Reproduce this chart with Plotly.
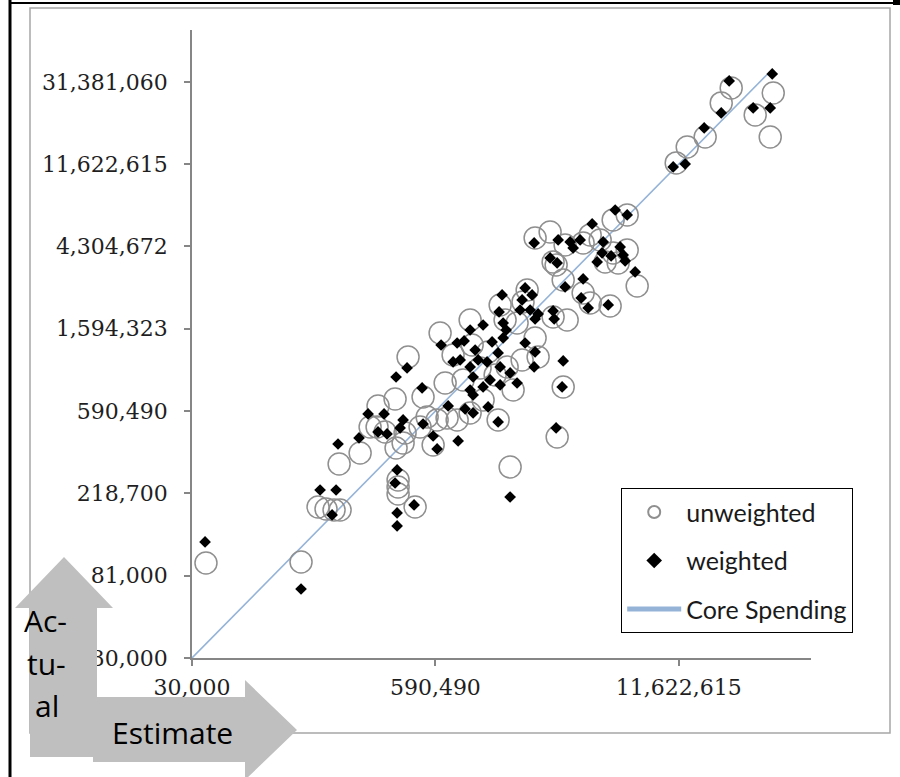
import math
import plotly.graph_objects as go

# ---- data: estimated vs actual spending, in $ thousands ----
unweighted_est_k = [
    35.6, 114.0, 140.4, 154.8, 170.8, 183.9, 181.7, 235.0, 292.6, 360.5,
    289.2, 319.1, 364.9, 374.0, 374.0, 374.0, 460.7, 407.4, 397.7, 507.8,
    489.5, 574.5, 603.1, 681.4, 770.8, 422.6, 625.6, 903.6, 733.5, 665.4,
    829.5, 1386.2, 1605.6, 2002.1, 2077.1, 1707.8, 1421.3, 1529.5, 1272.9, 1059.2,
    903.6, 2823.4, 1304.6, 2495.4, 2964.1, 1816.4, 1474.5, 2622.5, 2002.1, 2406.0,
    2589.3, 2823.4, 3604.6, 3929.5, 5016.7, 6984.6, 5205.3, 6181.5, 4440.7, 5205.3,
    6181.5, 4721.8, 5535.0, 3929.5, 3604.6, 2890.5, 2495.4, 11262.8, 12888.2, 16056.6,
    19546.0, 22083.0, 29631.0, 35611.2, 36942.7, 265.5, 926.1, 1126.2, 1020.8, 1226.9,
    1726.6, 533.7,
]
unweighted_act_k = [
    94.4, 95.5, 185.7, 181.1, 179.0, 179.0, 311.8, 356.2, 628.1, 683.4,
    487.6, 458.9, 378.4, 257.2, 236.4, 217.2, 185.7, 453.5, 401.8, 700.0,
    487.6, 392.3, 530.5, 543.4, 530.5, 1134.2, 1515.6, 1773.3, 1162.9, 828.8,
    859.9, 1773.3, 1709.6, 1426.9, 1134.2, 1094.5, 1005.9, 761.6, 530.5, 675.4,
    577.3, 790.1, 2124.9, 1837.9, 1773.3, 2546.1, 300.9, 432.0, 4768.8, 5128.6,
    3443.7, 2873.7, 2456.7, 2176.3, 2100.0, 2673.2, 5929.3, 6299.5, 4657.2, 3981.2,
    4125.4, 3572.2, 3529.2, 4947.8, 4493.2, 4383.5, 3572.2, 11797.0, 14307.4, 16136.8,
    24339.2, 29166.9, 21052.0, 16136.8, 27451.8, 487.6, 1311.1, 1205.2, 994.0, 913.4,
    2204.8, 549.9,
]

weighted_est_k = [
    35.2, 114.0, 143.9, 175.1, 166.7, 179.3, 231.9, 259.0, 315.0, 292.6,
    326.7, 369.6, 360.5, 369.6, 369.6, 454.9, 397.7, 383.4, 501.9, 507.8,
    574.5, 603.1, 364.9, 417.5, 633.2, 690.3, 780.1, 903.6, 1059.2, 770.8,
    839.4, 960.9, 1182.4, 1272.9, 997.0, 799.6, 733.5, 903.6, 1112.0, 1304.6,
    937.4, 1153.7, 1304.6, 1059.2, 903.6, 937.4, 1474.5, 1605.6, 849.6, 937.4,
    1126.2, 1272.9, 1336.4, 1771.6, 1929.6, 1707.8, 1665.7, 1884.5, 2077.1, 2002.1,
    2495.4, 2528.5, 2890.5, 1288.1, 1353.7, 1404.4, 1353.7, 1771.6, 2002.1, 1978.4,
    2823.4, 2786.9, 2589.3, 1474.5, 3604.6, 3519.0, 3833.5, 4899.6, 1978.4, 2654.5,
    3074.8, 3474.5, 3189.3, 2406.0, 2622.5, 4024.9, 4606.9, 4546.6, 4279.7, 5077.8,
    5670.1, 5881.9, 6029.6, 6813.0, 5336.5, 6181.5, 10856.4, 12574.5, 15865.1, 19546.0,
    21543.9, 28906.9, 35611.2, 36499.3,
]
weighted_act_k = [
    121.7, 69.0, 227.8, 227.8, 168.6, 396.9, 426.9, 570.5, 570.5, 458.9,
    448.2, 290.1, 247.9, 172.7, 147.6, 190.2, 530.5, 481.8, 780.9, 505.3,
    437.1, 374.0, 891.1, 994.0, 1311.1, 628.1, 411.9, 1571.2, 1668.9, 1343.1,
    1376.4, 1234.2, 1360.4, 1190.8, 1094.5, 1094.5, 1068.5, 1005.9, 1068.5, 1005.9,
    891.1, 859.9, 809.3, 790.1, 761.6, 717.5, 935.5, 828.8, 606.1, 577.3,
    620.5, 518.1, 2398.8, 2609.6, 2398.8, 2257.2, 2000.2, 2000.2, 1907.1, 1794.9,
    1976.5, 1794.9, 2641.1, 1952.7, 1709.6, 1571.2, 1426.9, 1343.1, 1205.2, 1005.9,
    1081.4, 790.1, 481.8, 209.4, 2908.0, 2312.4, 2050.0, 2124.9, 4493.2, 4657.2,
    4546.6, 4657.2, 4229.6, 3746.7, 3529.2, 5647.3, 4546.6, 3981.2, 3572.2, 3841.2,
    4279.6, 3886.5, 3615.4, 3164.6, 6685.2, 6299.5, 11240.0, 11645.8, 17997.6, 21565.8,
    31729.4, 22911.8, 22911.8, 34522.2,
]

# core spending reference (actual = estimate)
core_k = [30.0, 34300.0]

tick_vals = [30000, 81000, 218700, 590490, 1594323, 4304672, 11622615, 31381060]
y_tick_text = ["30,000", "81,000", "218,700", "590,490", "1,594,323",
               "4,304,672", "11,622,615", "31,381,060"]
x_tick_vals = [30000, 590490, 11622615]
x_tick_text = ["30,000", "590,490", "11,622,615"]


def dollars(vals_k):
    return [v * 1000 for v in vals_k]


# ---- page geometry (pixels) ----
W, H = 900, 777
PLOT_L, PLOT_R, PLOT_T, PLOT_B = 192, 811, 30, 658


def fx(x):
    return x / W


def fy(y):
    return 1 - y / H


lo = math.log10(30000)
hi = lo + 7.63 * math.log10(2.7)

fig = go.Figure()

fig.add_trace(go.Scatter(
    x=dollars(core_k), y=dollars(core_k), mode="lines", name="Core Spending",
    line=dict(color="#95b3d7", width=1.6), legendrank=3, legendgroup="c",
))
fig.add_trace(go.Scatter(
    x=dollars(unweighted_est_k), y=dollars(unweighted_act_k), mode="markers",
    name="unweighted", legendrank=1, legendgroup="a",
    marker=dict(symbol="circle", size=22, color="rgba(0,0,0,0)",
                line=dict(color="#8f8f8f", width=1.5)),
))
fig.add_trace(go.Scatter(
    x=dollars(weighted_est_k), y=dollars(weighted_act_k), mode="markers",
    name="weighted", legendrank=2, legendgroup="b",
    marker=dict(symbol="diamond", size=9, color="#000000",
                line=dict(width=0)),
))

# Bent "Actual / Estimate" arrows, drawn on a full-page overlay subplot so
# they sit on top of the axis tick labels (page pixel coordinates).
arrow_up = [(30, 757), (30, 608), (15, 608), (64, 557), (113, 608),
            (97, 608), (97, 757), (30, 757)]
arrow_right = [(93, 697), (245, 697), (245, 680), (297, 730), (245, 780),
               (245, 762), (93, 762), (93, 697)]
for pts in (arrow_up, arrow_right):
    fig.add_trace(go.Scatter(
        x=[p[0] for p in pts], y=[p[1] for p in pts], xaxis="x2", yaxis="y2",
        mode="lines", fill="toself", fillcolor="#bfbfbf",
        line=dict(width=0, color="#bfbfbf"), showlegend=False,
        hoverinfo="skip",
    ))

axis_common = dict(
    type="log", range=[lo, hi], showline=True, linecolor="#868686",
    linewidth=1.5, ticks="outside", ticklen=6, tickcolor="#868686",
    tickwidth=1.5, showgrid=False, zeroline=False, automargin=False,
    tickfont=dict(family="DejaVu Serif", size=22, color="#1f1f1f"),
)

fig.update_layout(
    xaxis=dict(**axis_common, tickvals=x_tick_vals, ticktext=x_tick_text,
               ticklabelstandoff=3, domain=[fx(PLOT_L), fx(PLOT_R)],
               anchor="y"),
    yaxis=dict(**axis_common, tickvals=tick_vals, ticktext=y_tick_text,
               ticklabelstandoff=12, domain=[fy(PLOT_B), fy(PLOT_T)],
               anchor="x"),
    xaxis2=dict(range=[0, W], domain=[0, 1], visible=False, anchor="y2",
                fixedrange=True, automargin=False),
    yaxis2=dict(range=[H, 0], domain=[0, 1], visible=False, anchor="x2",
                fixedrange=True, automargin=False),
)

shapes = [
    # chart area border
    dict(type="rect", xref="paper", yref="paper", x0=fx(30), x1=fx(890),
         y0=fy(733), y1=fy(8), line=dict(color="#a6a6a6", width=1.5),
         layer="below"),
    # page frame lines
    dict(type="line", xref="paper", yref="paper", x0=fx(10), x1=fx(10),
         y0=fy(0), y1=fy(777), line=dict(color="#000000", width=3)),
    dict(type="line", xref="paper", yref="paper", x0=fx(10), x1=fx(894),
         y0=fy(3), y1=fy(3), line=dict(color="#000000", width=2)),
    dict(type="rect", xref="paper", yref="paper", x0=fx(893), x1=fx(900),
         y0=fy(5), y1=fy(0), fillcolor="#000000", line=dict(width=0)),
]

arrow_font = dict(family="Open Sans", size=30, color="#000000")
annotations = [
    dict(text="Ac-", x=fx(45), y=fy(620)),
    dict(text="tu-", x=fx(46), y=fy(663)),
    dict(text="al", x=fx(47), y=fy(705)),
    dict(text="Estimate", x=fx(172), y=fy(732)),
]
for a in annotations:
    a.update(xref="paper", yref="paper", showarrow=False, font=arrow_font,
             xanchor="center", yanchor="middle")

fig.update_layout(
    width=W, height=H, autosize=False,
    margin=dict(l=0, r=0, t=0, b=0, pad=0, autoexpand=False),
    paper_bgcolor="white", plot_bgcolor="rgba(0,0,0,0)",
    shapes=shapes, annotations=annotations,
    legend=dict(
        x=fx(621), y=fy(488), xanchor="left", yanchor="top",
        bgcolor="white", bordercolor="#000000", borderwidth=1.2,
        font=dict(family="Lato", size=25, color="#1a1a1a"),
        itemsizing="constant", itemwidth=54,
        traceorder="grouped", tracegroupgap=13,
    ),
)

fig.write_html("out.html")
